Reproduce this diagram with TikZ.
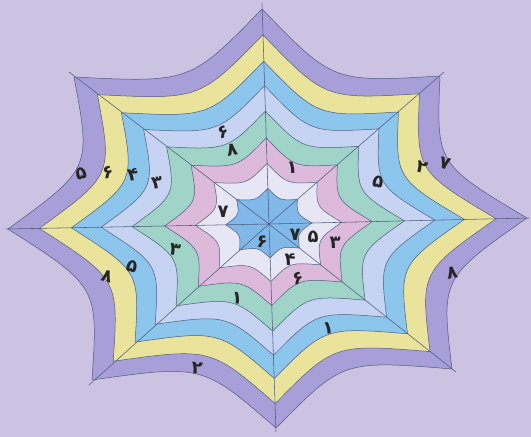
\documentclass[tikz,border=0pt]{standalone}
\usepackage{fontspec}
\newfontfamily\farsi[Script=Arabic]{DejaVu Sans}
\usepackage{tikz}
\usetikzlibrary{calc}

\definecolor{bgweb}{HTML}{CCC2E2}
\definecolor{bandpurple}{HTML}{A89FD9}
\definecolor{bandyellow}{HTML}{EAE39B}
\definecolor{bandblue}{HTML}{8DC6EC}
\definecolor{bandsky}{HTML}{C6D3F2}
\definecolor{bandmint}{HTML}{A0D4C8}
\definecolor{bandpink}{HTML}{DDB9DC}
\definecolor{bandwhite}{HTML}{E6E6F4}
\definecolor{bandcore}{HTML}{80B8EA}
\definecolor{webline}{HTML}{4E5C7E}

\begin{document}
\begin{tikzpicture}[
  x=1pt, y=-1pt,
  ring/.style={draw=webline, line width=0.5pt, line join=round},
  spoke/.style={draw=webline, line width=0.55pt},
  num/.style={font=\farsi\bfseries\fontsize{18}{18}\selectfont, inner sep=0pt, text=black!85},
]
  \fill[bgweb] (0,0) rectangle (531,437);
  \useasboundingbox (0,0) rectangle (531,437);

  % rings, outside in
  \foreach \f/\c in {1/bandpurple, 0.88/bandyellow, 0.757/bandblue, 0.643/bandsky,
                     0.525/bandmint, 0.40/bandpink, 0.282/bandwhite, 0.166/bandcore} {
    \begin{scope}[shift={(269,224)}, scale=\f]
      \path[ring, fill=\c]
        (258,-6) .. controls (167.3,-60.1) .. (171,-148)
        .. controls (64,-141.6) .. (-7,-215)
        .. controls (-78.8,-141.2) .. (-195,-147)
        .. controls (-177.8,-55.4) .. (-261,5)
        .. controls (-170.8,62.8) .. (-177,156)
        .. controls (-66.3,140.4) .. (7,204)
        .. controls (74.1,136.1) .. (183,145)
        .. controls (172,54.2) .. cycle;
    \end{scope}
  }

  % spokes
  \coordinate (hub) at (269,224);
  \coordinate (tR)  at (529,218);
  \coordinate (tUR) at (444,72);
  \coordinate (tT)  at (262,3);
  \coordinate (tUL) at (69,72);
  \coordinate (tL)  at (6,229);
  \coordinate (tLL) at (89,385);
  \coordinate (tB)  at (276,432);
  \coordinate (tLR) at (456,372);
  \foreach \t in {tR, tUR, tT, tUL, tL, tLL, tB, tLR}
    \draw[spoke] (hub) -- (\t);

  % digits
  \foreach \x/\y/\r/\d [count=\i] in {
      81/174/15/۵, 108/172/15/۶, 133/175/10/۴, 157/183/10/۳,
      223/212/0/۷, 175/250/-10/۳, 132/266/-15/۵, 107/276/-15/۸,
      197/368/-5/۲, 237/298/-5/۱, 262/242/0/۶, 295/235/0/۷,
      313/237/0/۵, 335/243/0/۳, 290/260/0/۴, 298/278/15/۶,
      292/168/0/۱, 232/150/10/۸, 223/132/20/۶, 378/182/-10/۵,
      422/167/-15/۲, 445/163/-15/۷, 452/273/10/۸, 328/328/5/۱} {
    \node[num, rotate=\r] (d\i) at (\x,\y) {\d};
  }
\end{tikzpicture}
\end{document}
